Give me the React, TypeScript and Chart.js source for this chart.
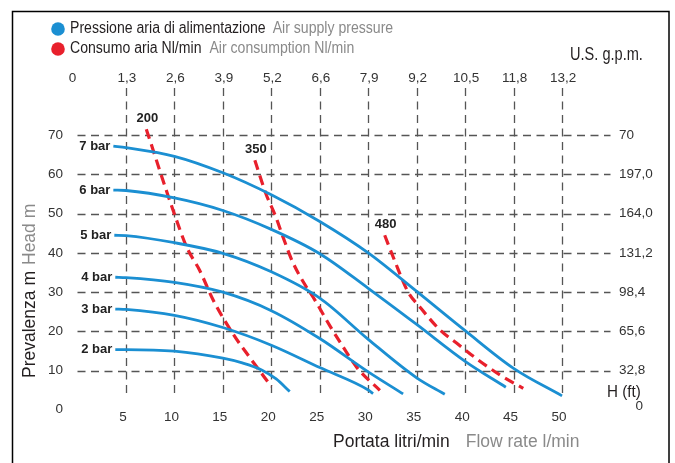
import React, { useEffect, useRef } from 'react';
import { Chart, registerables } from 'chart.js';

Chart.register(...registerables);

// ---- data ----
const barLabels = ['7 bar', '6 bar', '5 bar', '4 bar', '3 bar', '2 bar'];
const flow7 = [3.7, 5, 10, 15, 20, 25, 30, 35, 40, 45, 50];
const head7 = [67.2, 66.8, 64.6, 60.4, 54.8, 48, 40, 30.2, 20.2, 10.6, 3.6];
const flow6 = [3.7, 5, 10, 15, 20, 25, 30, 35, 40, 44.2];
const head6 = [56, 55.9, 54, 50.8, 46, 39.8, 31, 21.8, 12.4, 5.8];
const flow5 = [3.8, 5, 10, 15, 20, 25, 30, 35, 37.9];
const head5 = [44.5, 44.4, 42.6, 39.9, 35.2, 28.5, 18, 8.2, 4];
const flow4 = [3.9, 5, 10, 15, 20, 25, 30, 33.6];
const head4 = [33.8, 33.7, 32.5, 30, 25.3, 18.2, 9.7, 4.1];
const flow3 = [3.9, 5, 10, 15, 20, 25, 30, 30.5];
const head3 = [25.7, 25.6, 24.1, 21, 16.5, 10.8, 5.1, 4.2];
const flow2 = [3.9, 5, 10, 15, 17, 19, 20.5, 21.9];
const head2 = [15.4, 15.4, 15, 13.2, 12, 10.2, 7.9, 4.7];

const airLabels = ['200', '350', '480'];
const flowA200 = [7.1, 9.9, 11.3, 12.6, 14, 16.1, 17.8, 20];
const headA200 = [71.5, 50.6, 41.3, 35.6, 28, 19.2, 13.3, 6];
const flowA350 = [18.3, 19.5, 20.4, 21.2, 22.2, 23.4, 24.5, 26, 27.4, 28.9, 31.2];
const headA350 = [63.6, 54.7, 49.6, 44.1, 37.7, 32.2, 28, 21.6, 16.1, 10.6, 5];
const flowA480 = [31.7, 32.7, 34.1, 35.3, 37.4, 39.4, 41.1, 43.6, 46];
const headA480 = [44.5, 38.2, 30.1, 26.3, 20.4, 16.5, 13.2, 8.9, 5.5];

const flowTicks = [5, 10, 15, 20, 25, 30, 35, 40, 45, 50];
const gpmTickValues = [0, 5, 10, 15, 20, 25, 30, 35, 40, 45, 50];
const gpmTicks = ['0', '1,3', '2,6', '3,9', '5,2', '6,6', '7,9', '9,2', '10,5', '11,8', '13,2'];
const headTicks = [0, 10, 20, 30, 40, 50, 60, 70];
const ftTickValues = [70, 60, 50, 40, 30, 20, 10];
const ftTicks = ['70', '197,0', '164,0', '131,2', '98,4', '65,6', '32,8'];
const gridHeads = [10, 20, 30, 40, 50, 60, 70];

const BLUE = '#1b8fd2';
const RED = '#e8202c';
const BLACK = '#231f20';
const GREY = '#8a8a8a';
const TICK = '#333333';
const FONT = '"Liberation Sans", Arial, Helvetica, sans-serif';

function pts(xs: number[], ys: number[]) {
  return xs.map((x, i) => ({ x, y: ys[i] }));
}

function txt(ctx: CanvasRenderingContext2D, text: string, x: number, y: number, size: number, color: string, sx = 1, align: CanvasTextAlign = 'left', weight = 'normal') {
  ctx.save();
  ctx.translate(x, y);
  ctx.scale(sx, 1);
  ctx.font = `${weight} ${size}px ${FONT}`;
  ctx.fillStyle = color;
  ctx.textAlign = align;
  ctx.textBaseline = 'middle';
  ctx.fillText(text, 0, 0);
  const w = ctx.measureText(text).width * sx;
  ctx.restore();
  return w;
}

export default function App() {
  const ref = useRef<HTMLCanvasElement>(null);

  useEffect(() => {
    const canvas = ref.current!;
    const blue = [
      [flow7, head7], [flow6, head6], [flow5, head5], [flow4, head4], [flow3, head3], [flow2, head2],
    ];
    const red = [[flowA200, headA200], [flowA350, headA350], [flowA480, headA480]];

    const datasets: any[] = [];
    blue.forEach(([xs, ys], i) => {
      datasets.push({
        label: barLabels[i],
        data: pts(xs, ys),
        borderColor: BLUE,
        borderWidth: 2.8,
        pointRadius: 0,
        fill: false,
        cubicInterpolationMode: 'monotone',
        kind: 'bar',
      });
    });
    red.forEach(([xs, ys], i) => {
      datasets.push({
        label: airLabels[i],
        data: pts(xs, ys),
        borderColor: RED,
        borderWidth: 3.2,
        borderDash: [10, 6],
        borderCapStyle: 'butt',
        pointRadius: 0,
        fill: false,
        cubicInterpolationMode: 'monotone',
        kind: 'air',
      });
    });

    const gridPlugin = {
      id: 'customGrid',
      beforeDatasetsDraw(chart: any) {
        const { ctx } = chart;
        const xs = chart.scales.x;
        const ys = chart.scales.y;
        ctx.save();
        ctx.strokeStyle = '#555';
        ctx.lineWidth = 1.3;
        ctx.setLineDash([8, 5.5]);
        gridHeads.forEach((v) => {
          const y = Math.round(ys.getPixelForValue(v)) + 0.5;
          ctx.beginPath();
          ctx.moveTo(xs.getPixelForValue(0), y);
          ctx.lineTo(xs.getPixelForValue(55), y);
          ctx.stroke();
        });
        flowTicks.forEach((v) => {
          const x = Math.round(xs.getPixelForValue(v)) + 0.5;
          ctx.beginPath();
          ctx.moveTo(x, ys.getPixelForValue(82));
          ctx.lineTo(x, ys.getPixelForValue(3));
          ctx.stroke();
        });
        ctx.restore();
      },
    };

    const textPlugin = {
      id: 'customText',
      afterDraw(chart: any) {
        const { ctx } = chart;
        const xs = chart.scales.x;
        const ys = chart.scales.y;
        ctx.save();
        // frame
        ctx.strokeStyle = '#000';
        ctx.lineWidth = 1.5;
        ctx.strokeRect(12.5, 11.5, 656.5, 520);

        // legend
        ctx.fillStyle = BLUE;
        ctx.beginPath();
        ctx.arc(58, 29, 6.8, 0, Math.PI * 2);
        ctx.fill();
        ctx.fillStyle = RED;
        ctx.beginPath();
        ctx.arc(58, 49, 6.8, 0, Math.PI * 2);
        ctx.fill();
        let w = txt(ctx, 'Pressione aria di alimentazione', 70, 29, 16, BLACK, 0.88);
        txt(ctx, 'Air supply pressure', 70 + w + 7, 29, 16, GREY, 0.88);
        w = txt(ctx, 'Consumo aria Nl/min', 70, 49, 16, BLACK, 0.88);
        txt(ctx, 'Air consumption Nl/min', 70 + w + 8, 49, 16, GREY, 0.88);

        // top axis
        txt(ctx, 'U.S. g.p.m.', 570, 55, 18, BLACK, 0.81);
        gpmTickValues.forEach((v, i) => {
          txt(ctx, gpmTicks[i], xs.getPixelForValue(v) + (i === 0 ? -5 : 1), 78, 13.5, TICK, 1, 'center');
        });

        // left axis
        headTicks.forEach((v) => {
          txt(ctx, String(v), 63, ys.getPixelForValue(v) - (v === 0 ? 1 : 0), 13.5, TICK, 1, 'right');
        });
        // right axis
        ftTickValues.forEach((v, i) => {
          txt(ctx, ftTicks[i], 619, ys.getPixelForValue(v), 13.5, TICK, 1, 'left');
        });
        txt(ctx, 'H (ft)', 607, 392, 16.5, BLACK, 0.92, 'left');
        txt(ctx, '0', 643, 406, 13.5, TICK, 1, 'right');

        // bottom axis
        flowTicks.forEach((v) => {
          txt(ctx, String(v), xs.getPixelForValue(v) - 3, 417, 13.5, TICK, 1, 'center');
        });
        w = txt(ctx, 'Portata litri/min', 333, 442, 17.5, BLACK, 1);
        txt(ctx, 'Flow rate l/min', 333 + w + 16, 442, 17.5, GREY, 1);

        // left title (rotated)
        ctx.save();
        ctx.translate(30, 378);
        ctx.rotate(-Math.PI / 2);
        w = txt(ctx, 'Prevalenza m', 0, 0, 17.5, BLACK, 1);
        txt(ctx, 'Head m', w + 6, 0, 17.5, GREY, 1);
        ctx.restore();

        // series labels
        chart.data.datasets.forEach((ds: any) => {
          const p = ds.data[0];
          const px = xs.getPixelForValue(p.x);
          const py = ys.getPixelForValue(p.y);
          if (ds.kind === 'bar') {
            txt(ctx, ds.label, px - 3, py, 13, '#222', 1, 'right', 'bold');
          } else {
            txt(ctx, ds.label, px + 1, py - 11, 13, '#222', 1, 'center', 'bold');
          }
        });
        ctx.restore();
      },
    };

    const chart = new Chart(canvas, {
      type: 'line',
      data: { datasets },
      options: {
        animation: false,
        responsive: false,
        maintainAspectRatio: false,
        layout: { padding: { left: 77.5, right: 64.5, top: 88, bottom: 53 } },
        plugins: { legend: { display: false }, tooltip: { enabled: false } },
        scales: {
          x: { type: 'linear', min: 0, max: 55, display: false },
          y: { type: 'linear', min: 0, max: 82, display: false },
        },
        elements: { point: { radius: 0 } },
      },
      plugins: [gridPlugin, textPlugin],
    } as any);

    return () => chart.destroy();
  }, []);

  return (
    <div style={{ position: 'absolute', left: 0, top: 0, width: 675, height: 463, background: '#fff' }}>
      <canvas ref={ref} width={675} height={463} style={{ display: 'block' }} />
    </div>
  );
}
